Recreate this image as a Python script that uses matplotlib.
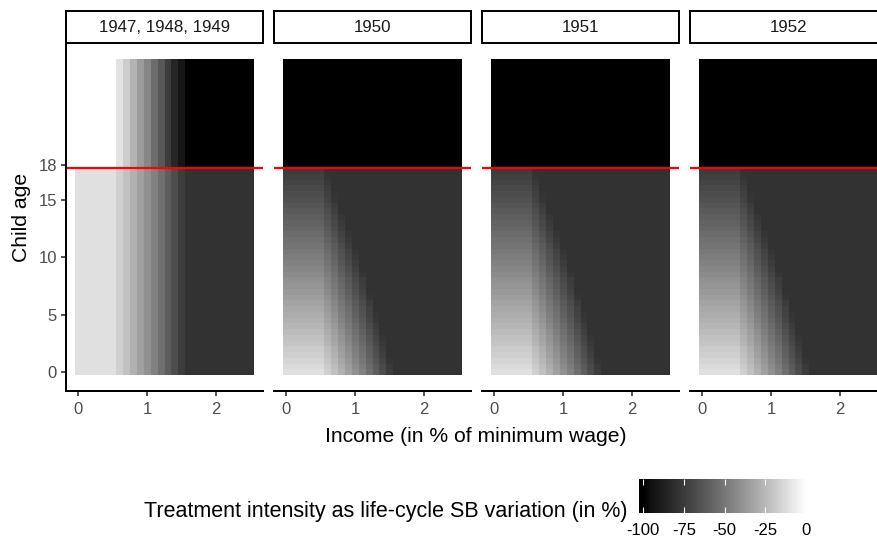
import numpy as np
import matplotlib
matplotlib.use("Agg")
import matplotlib.pyplot as plt
from matplotlib.colors import ListedColormap, Normalize

plt.rcParams['font.family'] = ['Liberation Sans', 'DejaVu Sans']

W, H = 877, 542

panels = ["1947, 1948, 1949", "1950", "1951", "1952"]
income = np.round(np.arange(0, 2.55, 0.1), 1)      # tile centres, 0.0 .. 2.5
ages = np.arange(0, 27.5, 0.5)                      # tile centres, 0 .. 27
n_young = 36                                        # ages 0 .. 17.5

nan = np.nan
# 1947-49 cohort: value depends on income only
young_1947 = [-11, -11, -11, -11, -11, -11, -16.5, -22, -28, -34, -40, -46,
              -53, -60, -67, -74, -79, -79, -79, -79, -79, -79, -79, -79, -79, -79]
old_1947 = [nan, nan, nan, nan, nan, nan, -10, -18, -27, -36, -44, -54,
            -63, -75, -85, -93, -100, -100, -100, -100, -100, -100, -100, -100, -100, -100]

# 1950+ cohorts: age profile (income <= 0.5) and extra drop along income
age_profile = [-11, -13, -15, -17, -18.5, -20.5, -22, -24, -26, -28, -29.5, -31,
               -33, -35, -37, -38.5, -40, -42, -44, -46, -47.5, -49, -51, -53,
               -55, -57, -58.5, -60, -62, -64, -66, -67.5, -69, -71, -73, -75]
income_drop = [0, 0, 0, 0, 0, 0, -5.5, -11, -17, -23, -29, -35, -42, -49,
               -56, -63, -70, -70, -70, -70, -70, -70, -70, -70, -70, -70]
young_floor = -79
old_value = -100

cbar_ticks = [-100, -75, -50, -25, 0]


def lab_gray_cmap():
    # ggplot-like black->white gradient interpolated in Lab
    L = np.linspace(0, 100, 256)
    Y = np.where(L > 8, ((L + 16) / 116) ** 3, L / 903.3)
    s = np.where(Y <= 0.0031308, 12.92 * Y, 1.055 * Y ** (1 / 2.4) - 0.055)
    s = np.clip(s, 0, 1)
    return ListedColormap(np.column_stack([s, s, s]))


cmap = lab_gray_cmap()
norm = Normalize(vmin=-100, vmax=0)


def build_grid(k):
    z = np.full((len(ages), len(income)), nan)
    if k == 0:
        z[:n_young, :] = np.array(young_1947)[None, :]
        z[n_young:, :] = np.array(old_1947)[None, :]
    else:
        z[:n_young, :] = np.maximum(np.array(age_profile)[:, None] + np.array(income_drop)[None, :],
                                    young_floor)
        z[n_young:, :] = old_value
    return z


def fbox(left, top, width, height):
    return [left / W, 1 - (top + height) / H, width / W, height / H]


fig = plt.figure(figsize=(W / 100, H / 100), dpi=100)

x_edges = np.append(income - 0.05, income[-1] + 0.05)
y_edges = np.append(ages - 0.25, ages[-1] + 0.25)

p_top, p_bot, p_w, gap = 43, 391, 197, 11
for k, name in enumerate(panels):
    left = 66 + k * (p_w + gap)
    ax = fig.add_axes(fbox(left, p_top, p_w, p_bot - p_top))
    ax.pcolormesh(x_edges, y_edges, build_grid(k), cmap=cmap, norm=norm)
    ax.axhline(17.75, color='red', lw=1.6)
    ax.set_xlim(-0.18, 2.68)
    ax.set_ylim(-1.625, 28.625)
    for s in ['top', 'right']:
        ax.spines[s].set_visible(False)
    ax.spines['bottom'].set_linewidth(1.44)
    ax.spines['left'].set_linewidth(1.44)
    ax.set_xticks([0, 1, 2])
    ax.tick_params(axis='both', length=3.6, width=1.2, color='#333333',
                   labelcolor='#4d4d4d', labelsize=12, pad=3)
    ax.tick_params(axis='x', pad=4.5)
    if k == 0:
        ax.set_yticks([0, 5, 10, 15, 18])
    else:
        ax.spines['left'].set_visible(False)
        ax.set_yticks([])

    sx = fig.add_axes(fbox(left, 11, p_w, 32))
    sx.set_xticks([])
    sx.set_yticks([])
    for s in sx.spines.values():
        s.set_linewidth(1.44)
        s.set_color('black')
    sx.text(0.5, 0.5, name, ha='center', va='center', fontsize=12.2,
            color='#1a1a1a', transform=sx.transAxes)

fig.text(476 / W, 1 - 437 / H, "Income (in % of minimum wage)", ha='center',
         va='center', fontsize=15.2)
fig.text(22 / W, 1 - 217 / H, "Child age", ha='center', va='center',
         rotation=90, fontsize=15.2)

# colour bar legend
cax = fig.add_axes(fbox(639, 478.5, 168, 34.5))
lo, hi = -102.5, 0.6
grad = np.linspace(lo, hi, 300)[None, :]
cax.imshow(grad, extent=[lo, hi, 0, 1], aspect='auto', cmap=cmap, norm=norm)
cax.set_xlim(lo, hi)
cax.set_ylim(0, 1)
cax.set_yticks([])
cax.set_xticks(cbar_ticks)
cax.set_xticklabels([str(t) for t in cbar_ticks])
cax.tick_params(axis='x', direction='in', top=True, bottom=True, length=4.3,
                width=0.8, color='white', labelsize=12, labelcolor='black', pad=7.5)
for s in cax.spines.values():
    s.set_visible(False)
fig.text(627 / W, 1 - 511 / H, "Treatment intensity as life-cycle SB variation (in %)",
         ha='right', va='center', fontsize=15.5)

fig.savefig("out.png", dpi=100)
